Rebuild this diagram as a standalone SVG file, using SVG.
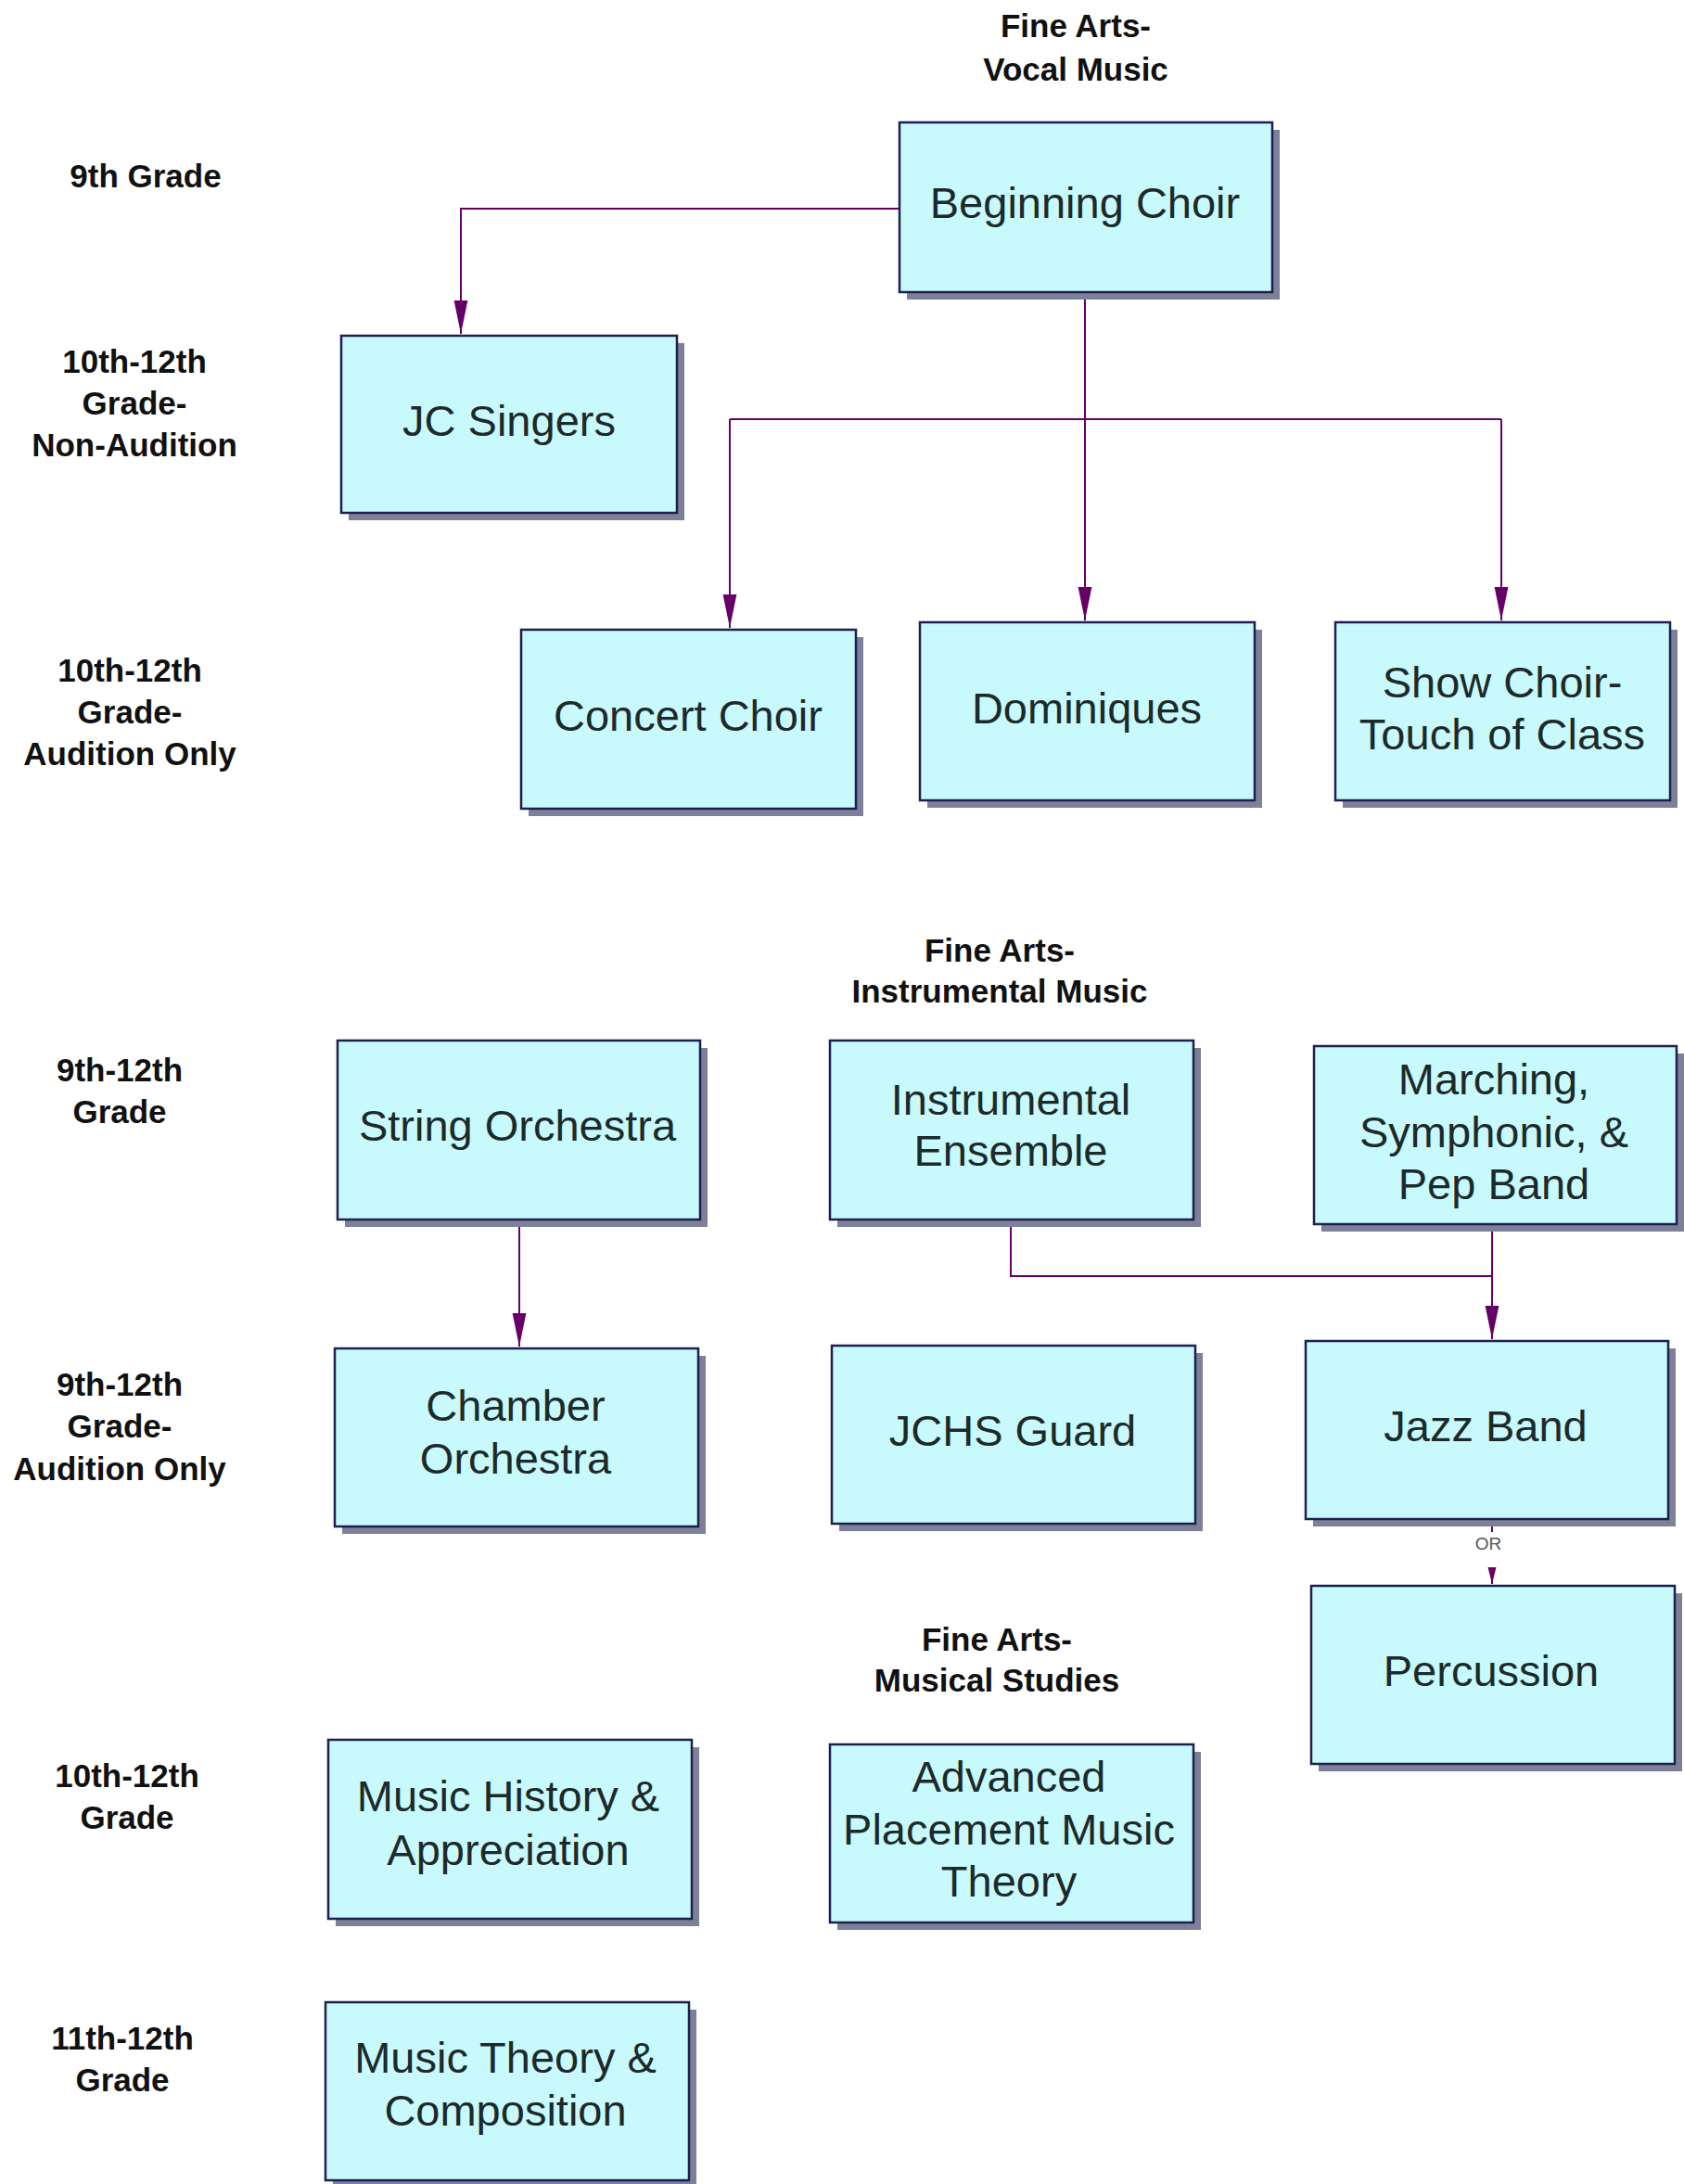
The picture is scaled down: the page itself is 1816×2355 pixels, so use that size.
<svg xmlns="http://www.w3.org/2000/svg" width="1816" height="2355" viewBox="0 0 1816 2355">
<style>
.sh{fill:#7d8098}
.bx{fill:#c8f9fc;stroke:#1c2050;stroke-width:2.5}
.nt{font-family:"Liberation Sans",Arial,sans-serif;font-size:47px;fill:#1c2a2a;text-anchor:middle}
.lb{font-family:"Liberation Sans",Arial,sans-serif;font-weight:bold;font-size:35px;fill:#111;text-anchor:middle}
.cn{fill:none;stroke:#660066;stroke-width:2}
</style>
<defs>
<marker id="ah" markerUnits="userSpaceOnUse" markerWidth="36" markerHeight="16" refX="34" refY="7" orient="auto" viewBox="0 0 34 14">
<path d="M0,0 L34,7 L0,14 Z" fill="#660066"/>
</marker>
<marker id="ahs" markerUnits="userSpaceOnUse" markerWidth="18" markerHeight="10" refX="16" refY="4" orient="auto" viewBox="0 0 16 8">
<path d="M0,0 L16,4 L0,8 Z" fill="#660066"/>
</marker>
</defs>
<rect width="1816" height="2355" fill="#fff"/>

<g id="labels">
<text class="lb" x="1160" y="40">Fine Arts-</text>
<text class="lb" x="1160" y="87">Vocal Music</text>
<text class="lb" x="157" y="202">9th Grade</text>
<text class="lb" x="145" y="402">10th-12th</text>
<text class="lb" x="145" y="447">Grade-</text>
<text class="lb" x="145" y="492">Non-Audition</text>
<text class="lb" x="140" y="735">10th-12th</text>
<text class="lb" x="140" y="780">Grade-</text>
<text class="lb" x="140" y="825">Audition Only</text>
<text class="lb" x="1078" y="1037">Fine Arts-</text>
<text class="lb" x="1078" y="1081">Instrumental Music</text>
<text class="lb" x="129" y="1166">9th-12th</text>
<text class="lb" x="129" y="1211">Grade</text>
<text class="lb" x="129" y="1505">9th-12th</text>
<text class="lb" x="129" y="1550">Grade-</text>
<text class="lb" x="129" y="1596">Audition Only</text>
<text class="lb" x="1075" y="1780">Fine Arts-</text>
<text class="lb" x="1075" y="1824">Musical Studies</text>
<text class="lb" x="137" y="1927">10th-12th</text>
<text class="lb" x="137" y="1972">Grade</text>
<text class="lb" x="132" y="2210">11th-12th</text>
<text class="lb" x="132" y="2255">Grade</text>
</g>

<g id="connectors">
<path class="cn" d="M970,225 H497 V360" marker-end="url(#ah)"/>
<path class="cn" d="M1170,315 V669" marker-end="url(#ah)"/>
<path class="cn" d="M787,452 H1619"/>
<path class="cn" d="M787,452 V677" marker-end="url(#ah)"/>
<path class="cn" d="M1619,452 V669" marker-end="url(#ah)"/>
<path class="cn" d="M560,1315 V1452" marker-end="url(#ah)"/>
<path class="cn" d="M1090,1315 V1376 H1609"/>
<path class="cn" d="M1609,1320 V1444" marker-end="url(#ah)"/>
<path class="cn" d="M1609,1638 V1652"/>
<path class="cn" d="M1609,1690 V1708" marker-end="url(#ahs)"/>
<text x="1605" y="1671" font-family="'Liberation Sans',Arial,sans-serif" font-size="19" fill="#555" text-anchor="middle">OR</text>
</g>

<g id="beginning-choir">
<rect class="sh" x="978" y="140" width="402" height="183"/>
<rect class="bx" x="970" y="132" width="402" height="183"/>
<text class="nt" x="1170" y="235">Beginning Choir</text>
</g>
<g id="jc-singers">
<rect class="sh" x="376" y="370" width="362" height="191"/>
<rect class="bx" x="368" y="362" width="362" height="191"/>
<text class="nt" x="549" y="470">JC Singers</text>
</g>
<g id="concert-choir">
<rect class="sh" x="570" y="687" width="361" height="193"/>
<rect class="bx" x="562" y="679" width="361" height="193"/>
<text class="nt" x="742" y="788">Concert Choir</text>
</g>
<g id="dominiques">
<rect class="sh" x="1000" y="679" width="361" height="192"/>
<rect class="bx" x="992" y="671" width="361" height="192"/>
<text class="nt" x="1172" y="780">Dominiques</text>
</g>
<g id="show-choir">
<rect class="sh" x="1448" y="679" width="361" height="192"/>
<rect class="bx" x="1440" y="671" width="361" height="192"/>
<text class="nt" x="1620" y="752">Show Choir-</text>
<text class="nt" x="1620" y="808">Touch of Class</text>
</g>
<g id="string-orchestra">
<rect class="sh" x="372" y="1130" width="391" height="193"/>
<rect class="bx" x="364" y="1122" width="391" height="193"/>
<text class="nt" x="558" y="1230">String Orchestra</text>
</g>
<g id="instrumental-ensemble">
<rect class="sh" x="903" y="1130" width="392" height="193"/>
<rect class="bx" x="895" y="1122" width="392" height="193"/>
<text class="nt" x="1090" y="1202">Instrumental</text>
<text class="nt" x="1090" y="1257">Ensemble</text>
</g>
<g id="marching-band">
<rect class="sh" x="1425" y="1136" width="391" height="192"/>
<rect class="bx" x="1417" y="1128" width="391" height="192"/>
<text class="nt" x="1611" y="1180">Marching,</text>
<text class="nt" x="1611" y="1237">Symphonic, &amp;</text>
<text class="nt" x="1611" y="1293">Pep Band</text>
</g>
<g id="chamber-orchestra">
<rect class="sh" x="369" y="1462" width="392" height="192"/>
<rect class="bx" x="361" y="1454" width="392" height="192"/>
<text class="nt" x="556" y="1532">Chamber</text>
<text class="nt" x="556" y="1589">Orchestra</text>
</g>
<g id="jchs-guard">
<rect class="sh" x="905" y="1459" width="392" height="192"/>
<rect class="bx" x="897" y="1451" width="392" height="192"/>
<text class="nt" x="1092" y="1559">JCHS Guard</text>
</g>
<g id="jazz-band">
<rect class="sh" x="1416" y="1454" width="391" height="192"/>
<rect class="bx" x="1408" y="1446" width="391" height="192"/>
<text class="nt" x="1602" y="1554">Jazz Band</text>
</g>
<g id="percussion">
<rect class="sh" x="1422" y="1718" width="392" height="192"/>
<rect class="bx" x="1414" y="1710" width="392" height="192"/>
<text class="nt" x="1608" y="1818">Percussion</text>
</g>
<g id="music-history">
<rect class="sh" x="362" y="1884" width="392" height="193"/>
<rect class="bx" x="354" y="1876" width="392" height="193"/>
<text class="nt" x="548" y="1953">Music History &amp;</text>
<text class="nt" x="548" y="2011">Appreciation</text>
</g>
<g id="ap-music-theory">
<rect class="sh" x="903" y="1889" width="392" height="192"/>
<rect class="bx" x="895" y="1881" width="392" height="192"/>
<text class="nt" x="1088" y="1932">Advanced</text>
<text class="nt" x="1088" y="1989">Placement Music</text>
<text class="nt" x="1088" y="2045">Theory</text>
</g>
<g id="music-theory-composition">
<rect class="sh" x="359" y="2167" width="392" height="192"/>
<rect class="bx" x="351" y="2159" width="392" height="192"/>
<text class="nt" x="545" y="2235">Music Theory &amp;</text>
<text class="nt" x="545" y="2292">Composition</text>
</g>
</svg>
